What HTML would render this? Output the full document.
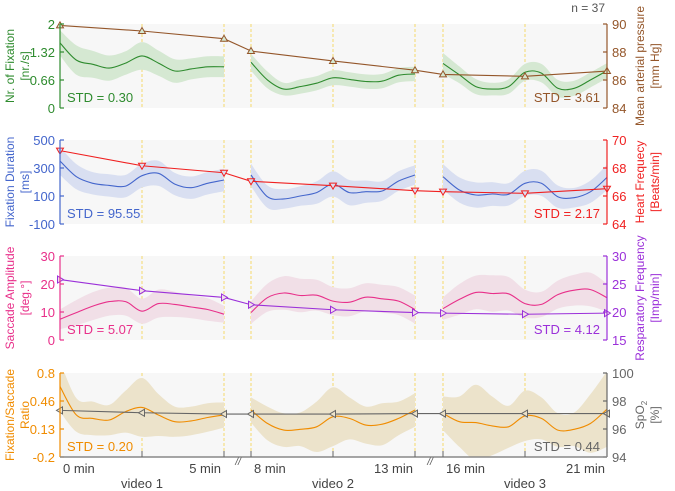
<!DOCTYPE html>
<html><head><meta charset="utf-8"><style>
body{margin:0;background:#fff;}
svg{display:block;font-family:"Liberation Sans",sans-serif;}
</style></head><body>
<svg id="chart" width="675" height="491" viewBox="0 0 675 491" xmlns="http://www.w3.org/2000/svg"></svg>
<script>
// time points (minutes) for vital-sign markers
const vitalTimes = [0,2.5,5,8,10.5,13,16,18.5,21];
const mapValues = [89.9,89.5,88.95,88.07,87.36,86.7,86.4,86.26,86.64];
const hrValues = [69.24,68.16,67.66,67.05,66.74,66.38,66.31,66.19,66.52];
const rrValues = [25.8,23.8,22.6,21.3,20.4,19.9,19.8,19.6,19.8];
const spo2Values = [97.33,97.16,97.07,97.07,97.07,97.1,97.1,97.1,97.1];
// eye-tracking series: 11 samples per segment (every 0.5 min)
const fixNumMean = [1.55,1.14,1.04,0.95,1.07,1.24,1.07,0.88,0.93,0.98,0.98,
 1.09,0.67,0.45,0.51,0.59,0.72,0.68,0.63,0.64,0.78,0.81,
 1.06,0.79,0.51,0.45,0.51,0.85,0.83,0.47,0.47,0.67,0.89];
const fixNumBand = [0.3,0.35,0.32,0.3,0.28,0.33,0.3,0.28,0.25,0.25,0.25,
 0.2,0.2,0.15,0.17,0.17,0.18,0.17,0.17,0.17,0.17,0.17,
 0.25,0.2,0.18,0.15,0.17,0.2,0.22,0.2,0.18,0.18,0.18];
const fixDurMean = [350,238,191,176,171,245,262,185,159,191,214,
 250,95,79,100,124,186,124,131,136,207,250,
 238,143,107,114,112,191,191,95,88,131,233];
const fixDurBand = [100,90,80,80,80,85,90,80,80,80,80,
 80,80,70,70,80,90,90,80,70,70,70,
 90,90,90,85,80,90,90,80,70,80,90];
const sacAmpMean = [7.4,9.8,12.1,13.7,13.7,10.3,13,12.7,11.8,10.9,9.2,
 9.8,15.1,16.8,15.9,16,13.9,13.5,15.3,14.7,13.9,10.9,
 11.2,14.5,17,16.6,16.5,13,12.7,16.2,17.8,18,15.1];
const sacAmpBand = [3.5,4.5,5,5,5,4.5,5,4.5,4,4,3,
 4,5,6,6,5.5,5,5,5,5,5,5,
 4,5.5,6,6.5,6,5,4.5,5,5.5,6,5];
const ratioMean = [0.64,0.30,0.26,0.24,0.34,0.39,0.30,0.22,0.23,0.27,0.30,
 0.36,0.20,0.12,0.13,0.16,0.28,0.26,0.18,0.19,0.26,0.36,
 0.32,0.22,0.21,0.17,0.16,0.29,0.26,0.12,0.13,0.20,0.37];
const ratioBand = [0.3,0.2,0.2,0.18,0.25,0.35,0.25,0.18,0.17,0.17,0.15,
 0.15,0.2,0.2,0.2,0.3,0.35,0.25,0.22,0.25,0.2,0.2,
 0.2,0.3,0.45,0.35,0.25,0.3,0.25,0.2,0.2,0.35,0.45];
const leftTicks = [["0","0.66","1.32","2"],["-100","100","300","500"],["0","10","20","30"],["-0.2","0.13","0.46","0.8"]];
const rightTicks = [["84","86","88","90"],["64","66","68","70"],["15","20","25","30"],["94","96","98","100"]];
const xLabels = ["0 min","5 min","8 min","13 min","16 min","21 min"];
const videoLabels = ["video 1","video 2","video 3"];

const NS="http://www.w3.org/2000/svg";
const svg=document.getElementById('chart');
function el(tag,attrs,parent){const e=document.createElementNS(NS,tag);for(const k in attrs)e.setAttribute(k,attrs[k]);(parent||svg).appendChild(e);return e;}
function xs(t){ if(t<=5) return 60+t*32.8; if(t<=13) return 251+(t-8)*32.8; return 443+(t-16)*32.8; }
// smooth catmull-rom path segment (without leading M)
function smooth(pts){
 let d="";
 for(let i=0;i<pts.length-1;i++){
  const p0=pts[Math.max(0,i-1)],p1=pts[i],p2=pts[i+1],p3=pts[Math.min(pts.length-1,i+2)];
  const c1=[p1[0]+(p2[0]-p0[0])/6,p1[1]+(p2[1]-p0[1])/6];
  const c2=[p2[0]-(p3[0]-p1[0])/6,p2[1]-(p3[1]-p1[1])/6];
  d+=` C${c1[0].toFixed(1)},${c1[1].toFixed(1)} ${c2[0].toFixed(1)},${c2[1].toFixed(1)} ${p2[0].toFixed(1)},${p2[1].toFixed(1)}`;
 }
 return d;
}
const segStarts=[0,8,16];
const panels=[
 {top:24,lmin:0,lmax:2,rmin:84,rmax:90,lc:"#2e8b2e",band:"#d5e8d2",rc:"#94562a",mean:fixNumMean,bd:fixNumBand,vit:mapValues,mk:"up",
  lt:["Nr. of Fixation","[nr./s]"],rt:["Mean arterial pressure","[mm Hg]"],ls:"STD = 0.30",rs:"STD = 3.61",name:"fixation-number"},
 {top:140,lmin:-100,lmax:500,rmin:64,rmax:70,lc:"#4466cc",band:"#d9dff1",rc:"#f02020",mean:fixDurMean,bd:fixDurBand,vit:hrValues,mk:"down",
  lt:["Fixation Duration","[ms]"],rt:["Heart Frequecy","[Beats/min]"],ls:"STD = 95.55",rs:"STD = 2.17",name:"fixation-duration"},
 {top:256,lmin:0,lmax:30,rmin:15,rmax:30,lc:"#e8308a",band:"#f1dfe7",rc:"#9b30d9",mean:sacAmpMean,bd:sacAmpBand,vit:rrValues,mk:"right",
  lt:["Saccade Amplitude","[deg.°]"],rt:["Resparatory Frequency","[Imp/min]"],ls:"STD = 5.07",rs:"STD = 4.12",name:"saccade-amplitude"},
 {top:373,lmin:-0.2,lmax:0.8,rmin:94,rmax:100,lc:"#f08c00",band:"#ece3cb",rc:"#666666",mean:ratioMean,bd:ratioBand,vit:spo2Values,mk:"left",
  lt:["Fixation/Saccade","Ratio"],rt:["SpO2","[%]"],ls:"STD = 0.20",rs:"STD = 0.44",name:"fixation-saccade-ratio"}
];
const H=84;
const dashX=[2.5,5,8,10.5,13,16,18.5];
panels.forEach((p,pi)=>{
 const g=el('g',{});
 
 
 const yl=v=>p.top+H-(v-p.lmin)/(p.lmax-p.lmin)*H;
 const yr=v=>p.top+H-(v-p.rmin)/(p.rmax-p.rmin)*H;
 const bg=el('rect',{x:60,y:p.top,width:547,height:H,fill:"#f7f7f7"},g);
 
 
 const clipId='clip'+pi;
 const cp=el('clipPath',{id:clipId},g);el('rect',{x:60,y:p.top,width:547,height:H},cp);
 dashX.concat([21]).forEach(t=>{const l=el('line',{x1:xs(t),x2:xs(t),y1:p.top,y2:p.top+H,stroke:"#f3d65c","stroke-width":0.9,"stroke-dasharray":"3,2"},g);
  });
 for(let s=0;s<3;s++){
  const idx=[...Array(11).keys()].map(i=>s*11+i);
  const up=idx.map(i=>[xs(segStarts[s]+(i-s*11)*0.5),yl(p.mean[i]+p.bd[i])]);
  const lo=idx.map(i=>[xs(segStarts[s]+(i-s*11)*0.5),yl(p.mean[i]-p.bd[i])]).reverse();
  const d=`M${up[0][0]},${up[0][1]}`+smooth(up)+` L${lo[0][0]},${lo[0][1]}`+smooth(lo)+" Z";
  const band=el('path',{d:d,fill:p.band,"clip-path":`url(#${clipId})`},g);
  
  const mp=idx.map(i=>[xs(segStarts[s]+(i-s*11)*0.5),yl(p.mean[i])]);
  const ln=el('path',{d:`M${mp[0][0]},${mp[0][1]}`+smooth(mp),fill:"none",stroke:p.lc,"stroke-width":1.1},g);
  
 }
 const vl=el('polyline',{points:vitalTimes.map((t,i)=>xs(t)+','+yr(p.vit[i])).join(' '),fill:"none",stroke:p.rc,"stroke-width":1.1},g);
 
 vitalTimes.forEach((t,i)=>{const x=xs(t),y=yr(p.vit[i]);let pts;
  if(p.mk=="up")pts=[[x,y-3.5],[x-3.5,y+2.5],[x+3.5,y+2.5]];
  else if(p.mk=="down")pts=[[x,y+3.5],[x-3.5,y-2.5],[x+3.5,y-2.5]];
  else if(p.mk=="right")pts=[[x+3.5,y],[x-2.5,y-3.5],[x-2.5,y+3.5]];
  else pts=[[x-3.5,y],[x+2.5,y-3.5],[x+2.5,y+3.5]];
  const m=el('polygon',{points:pts.map(q=>q.join(',')).join(' '),fill:p.band,stroke:p.rc,"stroke-width":1},g);
  });
 el('line',{x1:60,x2:60,y1:p.top,y2:p.top+H,stroke:p.lc,"stroke-width":1.2},g);
 leftTicks[pi].forEach((t,i)=>{const y=p.top+H-i*H/3;
  el('line',{x1:60,x2:64,y1:y,y2:y,stroke:p.lc,"stroke-width":1.2},g);
  const tx=el('text',{x:55,y:y+5,"text-anchor":"end","font-size":13,fill:p.lc},g);tx.textContent=t;
  });
 el('line',{x1:607,x2:607,y1:p.top,y2:p.top+H,stroke:p.rc,"stroke-width":1.2},g);
 rightTicks[pi].forEach((t,i)=>{const y=p.top+H-i*H/3;
  el('line',{x1:603,x2:607,y1:y,y2:y,stroke:p.rc,"stroke-width":1.2},g);
  const tx=el('text',{x:612,y:y+5,"font-size":13,fill:p.rc},g);tx.textContent=t;
  });
 const cy=p.top+H/2;
 [[14,p.lt[0]],[29,p.lt[1]]].forEach(([x,t])=>{const tx=el('text',{x:x,y:cy,"text-anchor":"middle","font-size":12,fill:p.lc,transform:`rotate(-90 ${x} ${cy})`},g);tx.textContent=t;
  });
 [[644,p.rt[0]],[659,p.rt[1]]].forEach(([x,t])=>{const tx=el('text',{x:x,y:cy,"text-anchor":"middle","font-size":12,fill:p.rc,transform:`rotate(-90 ${x} ${cy})`},g);
  if(t==="SpO2"){tx.textContent="SpO";const sub=el('tspan',{"font-size":8,dy:3},tx);sub.textContent="2";}else tx.textContent=t;
  });
 const s1=el('text',{x:67,y:p.top+H-6,"font-size":13,fill:p.lc},g);s1.textContent=p.ls;
 
 const s2=el('text',{x:600,y:p.top+H-6,"text-anchor":"end","font-size":13,fill:p.rc},g);s2.textContent=p.rs;
 
});
el('line',{x1:60,x2:607,y1:457,y2:457,stroke:"#888","stroke-width":1.5});
dashX.forEach(t=>el('line',{x1:xs(t),x2:xs(t),y1:451,y2:457,stroke:"#666","stroke-width":1}));
[238,430].forEach(x=>{const b=el('text',{x:x,y:465,"text-anchor":"middle","font-size":10,"font-style":"italic",fill:"#555"});b.textContent="//";
 });
const xlPos=[[63,"start"],[221,"end"],[254,"start"],[413,"end"],[446,"start"],[605,"end"]];
xLabels.forEach((t,i)=>{const tx=el('text',{x:xlPos[i][0],y:473,"text-anchor":xlPos[i][1],"font-size":13,fill:"#444"});tx.textContent=t;
 });
videoLabels.forEach((t,i)=>{const tx=el('text',{x:xs(2.5+i*8),y:488,"text-anchor":"middle","font-size":13,fill:"#444"});tx.textContent=t;
 });
const n=el('text',{x:605,y:12,"text-anchor":"end","font-size":12,fill:"#555"});n.textContent="n = 37";

</script>
</body></html>
